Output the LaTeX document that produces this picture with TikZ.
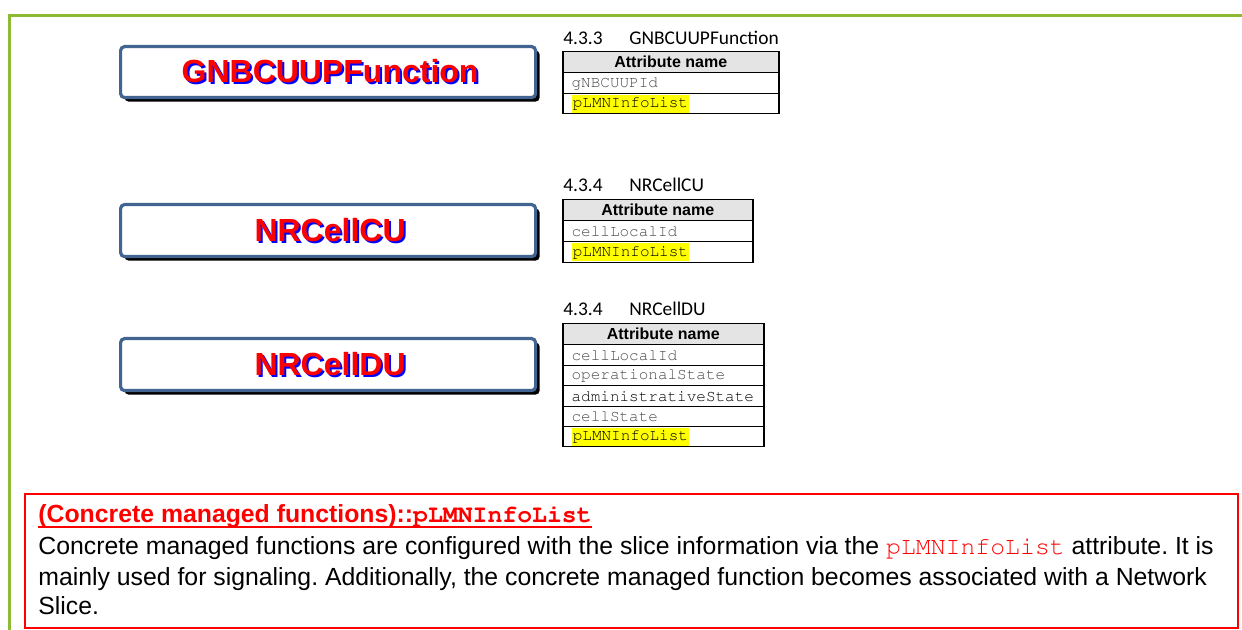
\documentclass[tikz,border=0pt]{standalone}
\usepackage[T1]{fontenc}
\usepackage{fontspec}
\setmainfont{Liberation Sans}
\setmonofont{Liberation Mono}
\newfontfamily\calibri{Carlito}
\newcommand\cour{\fontencoding{T1}\fontfamily{pcr}\selectfont}
\usetikzlibrary{shadows}
\definecolor{bgreen}{RGB}{141,187,51}
\definecolor{bblue}{RGB}{65,100,145}
\definecolor{hdrgray}{RGB}{228,228,228}
\definecolor{txtgray}{RGB}{70,70,70}
\definecolor{hlyellow}{RGB}{255,255,0}
\newcommand\shadtext[1]{\leavevmode\rlap{\hspace{1pt}\raisebox{-1pt}{\color{blue}#1}}{\color{red}#1}}
\newcommand\attrrow[6]{%
  \node[cellbox, minimum width=#4*0.5pt, minimum height=#5*0.5pt] (#1) at (#2,#3) {};
  \node[celltext] (#1t) at ([xshift=4.6pt]#1.west) {#6};
}
\begin{document}
\frenchspacing
\begin{tikzpicture}[x=0.5pt,y=-0.5pt,
  mobox/.style={draw=bblue, line width=1.6pt, fill=white, rounded corners=2pt,
    anchor=north west, inner sep=0pt,
    drop shadow={shadow xshift=2pt, shadow yshift=-2pt, opacity=1, fill=black}},
  motext/.style={font=\fontsize{16}{18}\selectfont\bfseries, inner sep=0pt},
  cellbox/.style={draw=black, line width=0.75pt, anchor=north west, inner sep=0pt},
  hdrbox/.style={cellbox, fill=hdrgray, font=\fontsize{8}{9}\selectfont\bfseries},
  celltext/.style={anchor=west, inner sep=0pt, font=\cour\fontsize{8}{9}\selectfont},
  hl/.style={fill=hlyellow, inner xsep=0.6pt, minimum height=9pt},
  heading/.style={anchor=base west, inner sep=0pt, font=\calibri\fontsize{9.7}{11}\selectfont},
  notetext/.style={anchor=base west, inner sep=0pt, font=\fontsize{12.4}{14}\selectfont}
]
\useasboundingbox (0,0) rectangle (1242,630);
% green frame
\draw[bgreen, line width=1.5pt] (9.5,630) -- (9.5,16) -- (1242,16);

% managed object boxes
\node[mobox, minimum width=415*0.5pt, minimum height=51*0.5pt] (b1) at (119,45) {};
\node[motext] (b1t) at ([xshift=1pt]b1.center) {\shadtext{GNBCUUPFunction}};
\node[mobox, minimum width=415*0.5pt, minimum height=52*0.5pt] (b2) at (119,203) {};
\node[motext] (b2t) at ([xshift=1pt]b2.center) {\shadtext{NRCellCU}};
\node[mobox, minimum width=415*0.5pt, minimum height=52*0.5pt] (b3) at (119,337) {};
\node[motext] (b3t) at ([xshift=1pt]b3.center) {\shadtext{NRCellDU}};

% table 1
\node[heading] (h1a) at (563,45) {4.3.3};
\node[heading] (h1b) at (629,45) {GNBCUUPFunction};
\node[hdrbox, minimum width=216*0.5pt, minimum height=21*0.5pt] (t1h) at (562,51) {Attribute name};
\attrrow{t1r1}{562}{72}{216}{21}{\color{txtgray}gNBCUUPId}
\attrrow{t1r2}{562}{93}{216}{20}{}
\node[celltext, hl] (t1hl) at ([xshift=4.6pt]t1r2.west) {pLMNInfoList};

% table 2
\node[heading] (h2a) at (563,192) {4.3.4};
\node[heading] (h2b) at (629,192) {NRCellCU};
\node[hdrbox, minimum width=190*0.5pt, minimum height=21*0.5pt] (t2h) at (562,199) {Attribute name};
\attrrow{t2r1}{562}{220}{190}{21}{\color{txtgray}cellLocalId}
\attrrow{t2r2}{562}{241}{190}{21}{}
\node[celltext, hl] (t2hl) at ([xshift=4.6pt]t2r2.west) {pLMNInfoList};

% table 3
\node[heading] (h3a) at (563,316) {4.3.4};
\node[heading] (h3b) at (629,316) {NRCellDU};
\node[hdrbox, minimum width=201*0.5pt, minimum height=21*0.5pt] (t3h) at (562,323) {Attribute name};
\attrrow{t3r1}{562}{344}{201}{21}{\color{txtgray}cellLocalId}
\attrrow{t3r2}{562}{365}{201}{20}{\color{txtgray}operationalState}
\attrrow{t3r3}{562}{385}{201}{21}{administrativeState}
\attrrow{t3r4}{562}{406}{201}{20}{\color{txtgray}cellState}
\attrrow{t3r5}{562}{426}{201}{20}{}
\node[celltext, hl] (t3hl) at ([xshift=4.6pt]t3r5.west) {pLMNInfoList};

% note box
\node[draw=red, line width=0.75pt, anchor=north west, inner sep=0pt,
  minimum width=1213*0.5pt, minimum height=134*0.5pt] (note) at (24,493) {};
\node[notetext, font=\fontsize{12.4}{14}\selectfont\bfseries, text=red] (n0) at (38,523)
  {(Concrete managed functions)::{\cour\bfseries pLMNInfoList}};
\draw[red, line width=0.8pt] ([yshift=-1.9pt]n0.base west) -- ([yshift=-1.9pt]n0.base east);
\node[notetext] (n1) at (38,554) {Concrete managed functions are configured with the slice information via the {\color{red}\cour pLMNInfoList} attribute. It is};
\node[notetext] (n2) at (38,585) {mainly used for signaling. Additionally, the concrete managed function becomes associated with a Network};
\node[notetext] (n3) at (38,614) {Slice.};
\end{tikzpicture}
\end{document}
